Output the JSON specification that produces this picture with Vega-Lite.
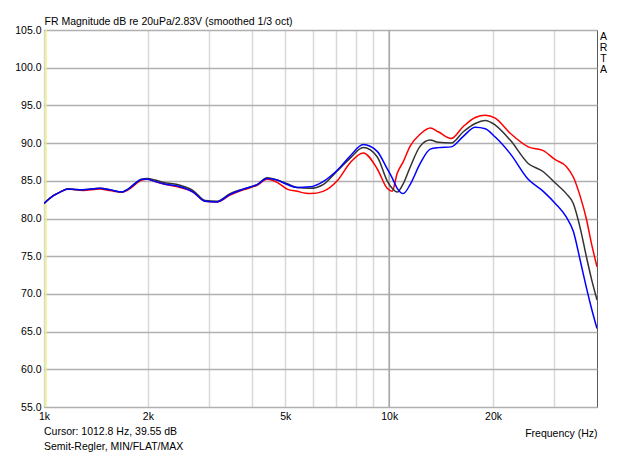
{
  "$schema": "https://vega.github.io/schema/vega-lite/v6.json",
  "width": 553,
  "height": 377,
  "autosize": {"type": "none"},
  "padding": {"left": 44, "top": 30, "right": 43, "bottom": 48},
  "background": "white",
  "config": {
    "font": "Liberation Sans",
    "view": {"stroke": "#5a5a5a", "strokeWidth": 1},
    "axis": {"labelFont": "Liberation Sans", "titleFont": "Liberation Sans", "labelColor": "#000000", "titleColor": "#000000", "labelFontSize": 10.5, "titleFontSize": 10.5, "titleFontWeight": "normal"}
  },
  "title": {
    "text": ["Cursor: 1012.8 Hz, 39.55 dB", "Semit-Regler, MIN/FLAT/MAX"],
    "orient": "bottom",
    "anchor": "start",
    "frame": "group",
    "font": "Liberation Sans",
    "fontSize": 10.5,
    "fontWeight": "normal",
    "color": "#000000",
    "lineHeight": 15,
    "offset": -12
  },
  "datasets": {
    "fr": [
      {"s": "MAX", "f": 1000, "db": 82.0}, {"s": "MAX", "f": 1062, "db": 83.0}, {"s": "MAX", "f": 1113, "db": 83.5}, {"s": "MAX", "f": 1174, "db": 83.9}, {"s": "MAX", "f": 1297, "db": 83.7}, {"s": "MAX", "f": 1453, "db": 83.9}, {"s": "MAX", "f": 1553, "db": 83.7}, {"s": "MAX", "f": 1683, "db": 83.5}, {"s": "MAX", "f": 1752, "db": 83.8}, {"s": "MAX", "f": 1923, "db": 85.1}, {"s": "MAX", "f": 1990, "db": 85.2}, {"s": "MAX", "f": 2100, "db": 84.9}, {"s": "MAX", "f": 2213, "db": 84.6}, {"s": "MAX", "f": 2480, "db": 84.1}, {"s": "MAX", "f": 2704, "db": 83.5}, {"s": "MAX", "f": 2928, "db": 82.3}, {"s": "MAX", "f": 3172, "db": 82.2}, {"s": "MAX", "f": 3460, "db": 83.1}, {"s": "MAX", "f": 3775, "db": 83.8}, {"s": "MAX", "f": 4143, "db": 84.4}, {"s": "MAX", "f": 4430, "db": 85.2}, {"s": "MAX", "f": 4735, "db": 84.8},
      {"s": "MAX", "f": 5064, "db": 83.9}, {"s": "MAX", "f": 5411, "db": 83.6}, {"s": "MAX", "f": 5902, "db": 83.3}, {"s": "MAX", "f": 6437, "db": 83.6}, {"s": "MAX", "f": 7070, "db": 85.0}, {"s": "MAX", "f": 7709, "db": 87.4}, {"s": "MAX", "f": 8410, "db": 88.7}, {"s": "MAX", "f": 9230, "db": 86.6}, {"s": "MAX", "f": 9867, "db": 84.0}, {"s": "MAX", "f": 10200, "db": 83.6}, {"s": "MAX", "f": 10550, "db": 86.0}, {"s": "MAX", "f": 10980, "db": 87.5}, {"s": "MAX", "f": 11500, "db": 89.6}, {"s": "MAX", "f": 12300, "db": 91.2}, {"s": "MAX", "f": 13150, "db": 92.0}, {"s": "MAX", "f": 13870, "db": 91.5}, {"s": "MAX", "f": 15120, "db": 90.6}, {"s": "MAX", "f": 16390, "db": 92.2}, {"s": "MAX", "f": 17760, "db": 93.4}, {"s": "MAX", "f": 18980, "db": 93.7}, {"s": "MAX", "f": 20290, "db": 93.3}, {"s": "MAX", "f": 22420, "db": 91.3}, {"s": "MAX", "f": 25280, "db": 89.5}, {"s": "MAX", "f": 27950, "db": 89.0}, {"s": "MAX", "f": 30280, "db": 87.8}, {"s": "MAX", "f": 32590, "db": 86.9}, {"s": "MAX", "f": 34150, "db": 85.5}, {"s": "MAX", "f": 35780, "db": 82.9}, {"s": "MAX", "f": 37240, "db": 80.0}, {"s": "MAX", "f": 38500, "db": 76.8}, {"s": "MAX", "f": 40000, "db": 73.6},
      {"s": "FLAT", "f": 1000, "db": 82.0}, {"s": "FLAT", "f": 1062, "db": 83.0}, {"s": "FLAT", "f": 1113, "db": 83.5}, {"s": "FLAT", "f": 1174, "db": 83.9}, {"s": "FLAT", "f": 1297, "db": 83.8}, {"s": "FLAT", "f": 1453, "db": 84.0}, {"s": "FLAT", "f": 1553, "db": 83.8}, {"s": "FLAT", "f": 1683, "db": 83.5}, {"s": "FLAT", "f": 1752, "db": 83.9}, {"s": "FLAT", "f": 1923, "db": 85.2}, {"s": "FLAT", "f": 1990, "db": 85.3}, {"s": "FLAT", "f": 2100, "db": 85.1}, {"s": "FLAT", "f": 2213, "db": 84.8}, {"s": "FLAT", "f": 2480, "db": 84.4}, {"s": "FLAT", "f": 2704, "db": 83.7}, {"s": "FLAT", "f": 2928, "db": 82.4}, {"s": "FLAT", "f": 3172, "db": 82.3}, {"s": "FLAT", "f": 3460, "db": 83.3}, {"s": "FLAT", "f": 3775, "db": 83.9}, {"s": "FLAT", "f": 4143, "db": 84.5}, {"s": "FLAT", "f": 4430, "db": 85.4}, {"s": "FLAT", "f": 4735, "db": 85.1},
      {"s": "FLAT", "f": 5064, "db": 84.6}, {"s": "FLAT", "f": 5411, "db": 84.1}, {"s": "FLAT", "f": 5902, "db": 84.0}, {"s": "FLAT", "f": 6437, "db": 84.5}, {"s": "FLAT", "f": 7070, "db": 86.3}, {"s": "FLAT", "f": 7709, "db": 88.0}, {"s": "FLAT", "f": 8410, "db": 89.4}, {"s": "FLAT", "f": 9230, "db": 88.2}, {"s": "FLAT", "f": 9867, "db": 85.0}, {"s": "FLAT", "f": 10200, "db": 84.0}, {"s": "FLAT", "f": 10550, "db": 83.5}, {"s": "FLAT", "f": 10980, "db": 84.6}, {"s": "FLAT", "f": 11500, "db": 86.8}, {"s": "FLAT", "f": 12300, "db": 89.6}, {"s": "FLAT", "f": 13150, "db": 90.4}, {"s": "FLAT", "f": 13870, "db": 90.1}, {"s": "FLAT", "f": 15120, "db": 90.0}, {"s": "FLAT", "f": 16390, "db": 91.5}, {"s": "FLAT", "f": 17760, "db": 92.6}, {"s": "FLAT", "f": 18980, "db": 93.0}, {"s": "FLAT", "f": 20290, "db": 92.4}, {"s": "FLAT", "f": 22420, "db": 90.4}, {"s": "FLAT", "f": 25280, "db": 87.3}, {"s": "FLAT", "f": 27950, "db": 86.2}, {"s": "FLAT", "f": 30280, "db": 84.7}, {"s": "FLAT", "f": 32590, "db": 83.3}, {"s": "FLAT", "f": 34150, "db": 82.0}, {"s": "FLAT", "f": 35780, "db": 78.7}, {"s": "FLAT", "f": 37240, "db": 75.0}, {"s": "FLAT", "f": 38500, "db": 72.1}, {"s": "FLAT", "f": 40000, "db": 69.2},
      {"s": "MIN", "f": 1000, "db": 82.0}, {"s": "MIN", "f": 1062, "db": 83.0}, {"s": "MIN", "f": 1113, "db": 83.5}, {"s": "MIN", "f": 1174, "db": 83.9}, {"s": "MIN", "f": 1297, "db": 83.8}, {"s": "MIN", "f": 1453, "db": 84.0}, {"s": "MIN", "f": 1553, "db": 83.8}, {"s": "MIN", "f": 1683, "db": 83.5}, {"s": "MIN", "f": 1752, "db": 83.9}, {"s": "MIN", "f": 1923, "db": 85.2}, {"s": "MIN", "f": 1990, "db": 85.2}, {"s": "MIN", "f": 2100, "db": 84.9}, {"s": "MIN", "f": 2213, "db": 84.6}, {"s": "MIN", "f": 2480, "db": 84.2}, {"s": "MIN", "f": 2704, "db": 83.5}, {"s": "MIN", "f": 2928, "db": 82.3}, {"s": "MIN", "f": 3172, "db": 82.2}, {"s": "MIN", "f": 3460, "db": 83.2}, {"s": "MIN", "f": 3775, "db": 83.9}, {"s": "MIN", "f": 4143, "db": 84.5}, {"s": "MIN", "f": 4430, "db": 85.3}, {"s": "MIN", "f": 4735, "db": 85.1},
      {"s": "MIN", "f": 5064, "db": 84.5}, {"s": "MIN", "f": 5411, "db": 84.1}, {"s": "MIN", "f": 5902, "db": 84.2}, {"s": "MIN", "f": 6437, "db": 84.9}, {"s": "MIN", "f": 7070, "db": 86.4}, {"s": "MIN", "f": 7709, "db": 88.3}, {"s": "MIN", "f": 8410, "db": 89.8}, {"s": "MIN", "f": 9230, "db": 88.9}, {"s": "MIN", "f": 9867, "db": 86.6}, {"s": "MIN", "f": 10200, "db": 85.4}, {"s": "MIN", "f": 10550, "db": 84.0}, {"s": "MIN", "f": 10980, "db": 83.3}, {"s": "MIN", "f": 11500, "db": 84.5}, {"s": "MIN", "f": 12300, "db": 87.3}, {"s": "MIN", "f": 13150, "db": 89.2}, {"s": "MIN", "f": 13870, "db": 89.4}, {"s": "MIN", "f": 15120, "db": 89.5}, {"s": "MIN", "f": 16390, "db": 90.9}, {"s": "MIN", "f": 17760, "db": 92.1}, {"s": "MIN", "f": 18980, "db": 91.9}, {"s": "MIN", "f": 20290, "db": 90.8}, {"s": "MIN", "f": 22420, "db": 88.6}, {"s": "MIN", "f": 25280, "db": 85.2}, {"s": "MIN", "f": 27950, "db": 83.6}, {"s": "MIN", "f": 30280, "db": 82.0}, {"s": "MIN", "f": 32590, "db": 80.2}, {"s": "MIN", "f": 34150, "db": 78.3}, {"s": "MIN", "f": 35780, "db": 74.4}, {"s": "MIN", "f": 37240, "db": 70.9}, {"s": "MIN", "f": 38500, "db": 68.2}, {"s": "MIN", "f": 40000, "db": 65.4}
    ],
    "cursor": [{"f": 1012.8}],
    "decade": [{"f": 10000}]
  },
  "encoding": {
    "x": {
      "field": "f", "type": "quantitative",
      "scale": {"type": "log", "domain": [1000, 40000], "nice": false},
      "axis": {
        "values": [1000, 2000, 3000, 4000, 5000, 6000, 7000, 8000, 9000, 10000, 20000, 30000],
        "labelExpr": "datum.value == 1000 ? '1k' : datum.value == 2000 ? '2k' : datum.value == 5000 ? '5k' : datum.value == 10000 ? '10k' : datum.value == 20000 ? '20k' : ''",
        "labelFlush": false, "labelOverlap": false, "labelPadding": 4,
        "ticks": false, "domain": false,
        "grid": true, "gridColor": "#d9d9d9", "gridWidth": 1.5,
        "title": "Frequency (Hz)", "titleAnchor": "end", "titleAlign": "right", "titleBaseline": "alphabetic", "titleX": 553, "titleY": 29
      }
    }
  },
  "layer": [
    {
      "data": {"name": "decade"},
      "mark": {"type": "rule", "color": "#a6a6a6", "strokeWidth": 1.5},
      "encoding": {}
    },
    {
      "data": {"name": "cursor"},
      "mark": {"type": "rule", "color": "#f0f07a", "strokeWidth": 1.5},
      "encoding": {}
    },
    {
      "data": {"name": "fr"},
      "transform": [{"filter": "datum.s == 'MAX'"}],
      "mark": {"type": "line", "color": "#ff0000", "strokeWidth": 1.5, "clip": true, "interpolate": "monotone"},
      "encoding": {
        "y": {
          "field": "db", "type": "quantitative",
          "scale": {"domain": [55, 105], "nice": false, "zero": false},
          "axis": {
            "values": [55, 60, 65, 70, 75, 80, 85, 90, 95, 100, 105],
            "format": ".1f", "labelFlush": false, "labelOverlap": false, "labelPadding": 3,
            "ticks": false, "domain": false,
            "grid": true, "gridColor": "#b0b0b0", "gridWidth": 1.5,
            "title": "FR Magnitude dB re 20uPa/2.83V (smoothed 1/3 oct)",
            "titleAngle": 0, "titleAlign": "left", "titleBaseline": "alphabetic", "titleX": 0, "titleY": -6
          }
        }
      }
    },
    {
      "data": {"name": "fr"},
      "transform": [{"filter": "datum.s == 'FLAT'"}],
      "mark": {"type": "line", "color": "#333333", "strokeWidth": 1.5, "clip": true, "interpolate": "monotone"},
      "encoding": {
        "y": {"field": "db", "type": "quantitative", "scale": {"domain": [55, 105], "nice": false, "zero": false}, "axis": null}
      }
    },
    {
      "data": {"name": "fr"},
      "transform": [{"filter": "datum.s == 'MIN'"}],
      "mark": {"type": "line", "color": "#0000ff", "strokeWidth": 1.5, "clip": true, "interpolate": "monotone"},
      "encoding": {
        "y": {
          "field": "db", "type": "quantitative", "scale": {"domain": [55, 105], "nice": false, "zero": false},
          "axis": {
            "orient": "right", "labels": false, "ticks": false, "domain": false, "grid": false,
            "title": ["A", "R", "T", "A"],
            "titleAngle": 0, "titleAlign": "center", "titleBaseline": "top", "titleX": 6, "titleY": 1,
            "titleLineHeight": 11, "titleFontSize": 10.5
          }
        }
      }
    }
  ],
  "resolve": {"axis": {"y": "independent"}}
}
